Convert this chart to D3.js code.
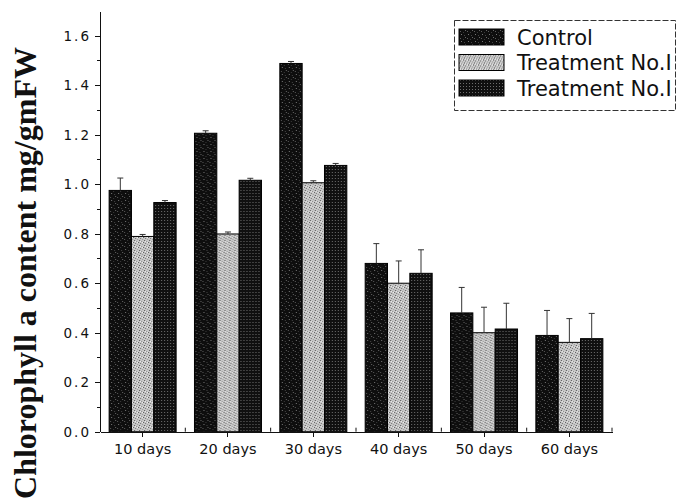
<!DOCTYPE html>
<meta charset="utf-8">
<style>
body { margin: 0; background: #fff; }
.axis path, .axis line { stroke: #111; shape-rendering: crispEdges; }
.axis text { font-family: "DejaVu Sans", sans-serif; fill: #111; }
</style>
<svg width="677" height="499"></svg>
<script src="https://cdn.jsdelivr.net/npm/d3@7/dist/d3.min.js"></script>
<script>

var categories = ["10 days", "20 days", "30 days", "40 days", "50 days", "60 days"];
var seriesNames = ["Control", "Treatment No.I", "Treatment No.I"];

var control    = [0.975, 1.206, 1.488, 0.680, 0.480, 0.389];
var controlErr = [0.050, 0.010, 0.008, 0.080, 0.103, 0.101];
var treat1     = [0.789, 0.799, 1.006, 0.600, 0.400, 0.361];
var treat1Err  = [0.008, 0.008, 0.008, 0.090, 0.103, 0.096];
var treat2     = [0.926, 1.016, 1.076, 0.640, 0.415, 0.376];
var treat2Err  = [0.008, 0.008, 0.008, 0.095, 0.104, 0.102];

var yMajor = [0, 0.2, 0.4, 0.6, 0.8, 1.0, 1.2, 1.4, 1.6];
var yMinor = [0.1, 0.3, 0.5, 0.7, 0.9, 1.1, 1.3, 1.5];

var values = [control, treat1, treat2],
    errors = [controlErr, treat1Err, treat2Err],
    fills = ["url(#pControl)", "url(#pT1)", "url(#pT2)"];

var svg = d3.select("svg"),
    plotLeft = 100, plotRight = 612, plotTop = 11, plotBottom = 431.7;

// textures for the bars
var defs = svg.append("defs");

var p0 = defs.append("pattern").attr("id", "pControl").attr("patternUnits", "userSpaceOnUse")
    .attr("width", 7).attr("height", 7);
p0.append("rect").attr("width", 7).attr("height", 7).attr("fill", "#0e0e0e");
[[1,1,"#5a5a5a"],[4,2,"#3a3a3a"],[2,4,"#777"],[5,5,"#444"],[6,0,"#666"]].forEach(function(d) {
  p0.append("rect").attr("x", d[0]).attr("y", d[1]).attr("width", 1).attr("height", 1).attr("fill", d[2]);
});

var p1 = defs.append("pattern").attr("id", "pT1").attr("patternUnits", "userSpaceOnUse")
    .attr("width", 5).attr("height", 5);
p1.append("rect").attr("width", 5).attr("height", 5).attr("fill", "#c8c8c8");
[[0,0,"#555"],[2,1,"#888"],[4,2,"#505050"],[1,3,"#707070"],[3,4,"#999"],[3,2,"#f2f2f2"],[1,1,"#eee"]].forEach(function(d) {
  p1.append("rect").attr("x", d[0]).attr("y", d[1]).attr("width", 1).attr("height", 1).attr("fill", d[2]);
});

var p2 = defs.append("pattern").attr("id", "pT2").attr("patternUnits", "userSpaceOnUse")
    .attr("width", 3).attr("height", 3);
p2.append("rect").attr("width", 3).attr("height", 3).attr("fill", "#101010");
p2.append("rect").attr("x", 1).attr("y", 1).attr("width", 1).attr("height", 1).attr("fill", "#6e6e6e");

var x0 = d3.scaleBand().domain(categories).range([plotLeft, plotRight])
    .paddingInner(0.215).paddingOuter(0.107);
var x1 = d3.scaleBand().domain([0, 1, 2]).range([0, x0.bandwidth()]);
var y = d3.scaleLinear().domain([0, 1.7]).range([plotBottom, plotTop]);

// bars
var group = svg.append("g").selectAll("g")
  .data(categories)
  .enter().append("g")
    .attr("transform", function(d) { return "translate(" + x0(d) + ",0)"; });

function rows(d, i) {
  return [0, 1, 2].map(function(s) { return {s: s, v: values[s][i], e: errors[s][i]}; });
}

group.selectAll("rect")
  .data(rows)
  .enter().append("rect")
    .attr("x", function(d) { return x1(d.s); })
    .attr("y", function(d) { return y(d.v); })
    .attr("width", x1.bandwidth())
    .attr("height", function(d) { return plotBottom - y(d.v); })
    .attr("fill", function(d) { return fills[d.s]; })
    .attr("stroke", "#000")
    .attr("stroke-width", 1);

// error bars
var err = group.selectAll(".err")
  .data(rows)
  .enter().append("g").attr("class", "err");

err.append("line")
    .attr("x1", function(d) { return x1(d.s) + x1.bandwidth() / 2; })
    .attr("x2", function(d) { return x1(d.s) + x1.bandwidth() / 2; })
    .attr("y1", function(d) { return y(d.v); })
    .attr("y2", function(d) { return y(d.v + d.e); })
    .attr("stroke", "#333").attr("stroke-width", 1);

err.append("line")
    .attr("x1", function(d) { return x1(d.s) + x1.bandwidth() / 2 - 3; })
    .attr("x2", function(d) { return x1(d.s) + x1.bandwidth() / 2 + 3; })
    .attr("y1", function(d) { return y(d.v + d.e); })
    .attr("y2", function(d) { return y(d.v + d.e); })
    .attr("stroke", "#333").attr("stroke-width", 1);

// y axis
svg.append("g")
    .attr("class", "axis")
    .attr("transform", "translate(" + plotLeft + ",0)")
    .call(d3.axisLeft(y).tickValues(yMajor).tickFormat(d3.format(".1f")).tickSize(5).tickPadding(6).tickSizeOuter(0))
    .selectAll("text").style("font-size", "13.5px").style("letter-spacing", "2px").attr("dx", "2px");

svg.append("g")
    .attr("class", "axis")
    .attr("transform", "translate(" + plotLeft + ",0)")
    .call(d3.axisLeft(y).tickValues(yMinor).tickFormat("").tickSize(3).tickSizeOuter(0))
    .select(".domain").remove();

// x axis
svg.append("g")
    .attr("class", "axis")
    .attr("transform", "translate(0," + plotBottom + ")")
    .call(d3.axisBottom(x0).tickSize(5).tickPadding(7).tickSizeOuter(0))
    .selectAll("text").style("font-size", "14.5px");

var bounds = categories.slice(1).map(function(c) { return x0(c) - x0.step() * x0.paddingInner() / 2; });
bounds.push(plotRight);
svg.append("g").selectAll("line")
  .data(bounds)
  .enter().append("line")
    .attr("x1", function(d) { return d; })
    .attr("x2", function(d) { return d; })
    .attr("y1", plotBottom)
    .attr("y2", plotBottom - 4)
    .attr("stroke", "#111");

// y title
svg.append("text")
    .attr("transform", "translate(36,273) rotate(-90)")
    .attr("text-anchor", "middle")
    .style("font-family", "'Liberation Serif', 'Times New Roman', serif")
    .style("font-weight", "bold")
    .style("font-size", "32px")
    .attr("fill", "#111")
    .text("Chlorophyll a content mg/gmFW");

// legend
var legend = svg.append("g");
legend.append("rect")
    .attr("x", 454.5).attr("y", 20.5).attr("width", 221).attr("height", 90)
    .attr("fill", "none").attr("stroke", "#333").attr("stroke-dasharray", "6,2");

var item = legend.selectAll(".item")
  .data(seriesNames)
  .enter().append("g")
    .attr("class", "item")
    .attr("transform", function(d, i) { return "translate(459," + (37 + i * 25.5) + ")"; });

item.append("rect")
    .attr("y", -8).attr("width", 45).attr("height", 16)
    .attr("fill", function(d, i) { return fills[i]; })
    .attr("stroke", "#000");

item.append("text")
    .attr("x", 58)
    .attr("dy", "0.36em")
    .style("font-family", "'DejaVu Sans', sans-serif")
    .style("font-size", "21px")
    .attr("fill", "#111")
    .text(function(d) { return d; });

</script>
